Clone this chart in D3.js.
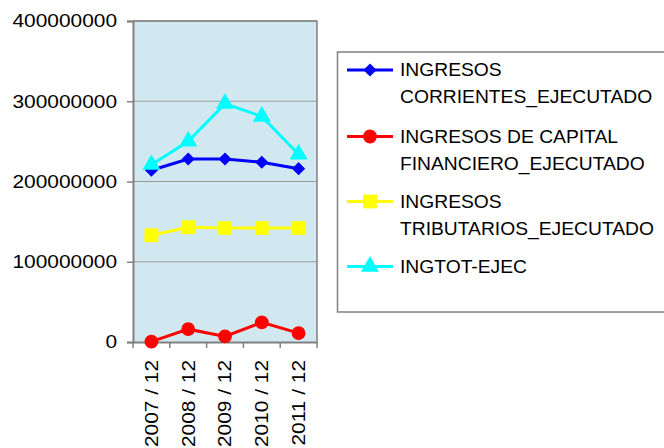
<!DOCTYPE html>
<html>
<head>
<meta charset="utf-8">
<script src="https://cdn.jsdelivr.net/npm/d3@7"></script>
<style>
  body { margin: 0; background: #fff; }
  text { font-family: "Liberation Sans", Arial, sans-serif; fill: #000; }
</style>
</head>
<body>
<div id="chart"></div>
<script>
// categories and series
var periods = ["2007 / 12", "2008 / 12", "2009 / 12", "2010 / 12", "2011 / 12"];
var corrientes = [214000000, 228000000, 228000000, 224000000, 216000000];
var capital = [500000, 16000000, 7000000, 24500000, 11000000];
var tributarios = [133000000, 143000000, 142000000, 142000000, 142000000];
var ingtot = [221000000, 250000000, 297000000, 281000000, 234000000];
var yTicks = [0, 100000000, 200000000, 300000000, 400000000];

var series = [
    { name: ["INGRESOS", "CORRIENTES_EJECUTADO"], values: corrientes, color: "#0000ff", marker: "diamond" },
    { name: ["INGRESOS DE CAPITAL", "FINANCIERO_EJECUTADO"], values: capital, color: "#ff0000", marker: "circle" },
    { name: ["INGRESOS", "TRIBUTARIOS_EJECUTADO"], values: tributarios, color: "#ffff00", marker: "square" },
    { name: ["INGTOT-EJEC"], values: ingtot, color: "#00ffff", marker: "triangle" }
];

var W = 664, H = 448;
var plot = { left: 133, right: 317, top: 21, bottom: 342 };

var svg = d3.select("#chart")
    .append("svg")
    .attr("width", W)
    .attr("height", H);

svg.append("rect").attr("width", W).attr("height", H).attr("fill", "#fff");

var x = d3.scaleBand()
    .domain(periods)
    .range([plot.left, plot.right]);

var y = d3.scaleLinear()
    .domain([0, 400000000])
    .range([plot.bottom, plot.top]);

// plot background
svg.append("rect")
    .attr("x", plot.left)
    .attr("y", plot.top)
    .attr("width", plot.right - plot.left)
    .attr("height", plot.bottom - plot.top)
    .attr("fill", "#d2e8f0");

// gridlines
svg.append("g")
    .selectAll("line")
    .data(yTicks.slice(1))
    .enter()
    .append("line")
    .attr("x1", plot.left)
    .attr("x2", plot.right)
    .attr("y1", function (d) { return y(d); })
    .attr("y2", function (d) { return y(d); })
    .attr("stroke", "#9a9a9a")
    .attr("stroke-width", 1);

// right and top frame
svg.append("path")
    .attr("d", "M" + plot.left + "," + plot.top + "H" + plot.right + "V" + plot.bottom)
    .attr("fill", "none")
    .attr("stroke", "#808080")
    .attr("stroke-width", 1.5);

// Y axis
var yAxis = svg.append("g")
    .attr("transform", "translate(" + plot.left + ",0)")
    .call(d3.axisLeft(y).tickValues(yTicks).tickSize(6).tickPadding(10).tickFormat(d3.format("d")));

// X axis (ticks on band edges)
var xAxis = svg.append("g")
    .attr("transform", "translate(0," + plot.bottom + ")")
    .call(d3.axisBottom(x).tickSize(0).tickPadding(18));

svg.append("g")
    .selectAll("line")
    .data(periods.concat(["end"]))
    .enter()
    .append("line")
    .attr("x1", function (d, i) { return plot.left + i * x.step(); })
    .attr("x2", function (d, i) { return plot.left + i * x.step(); })
    .attr("y1", plot.bottom)
    .attr("y2", plot.bottom + 6)
    .attr("stroke", "#808080")
    .attr("stroke-width", 1.5);

[yAxis, xAxis].forEach(function (ax) {
    ax.select(".domain").attr("stroke", "#808080").attr("stroke-width", 2);
    ax.selectAll(".tick line").attr("stroke", "#808080").attr("stroke-width", 1.5);
    ax.selectAll("text")
        .style("font-family", "'Liberation Sans', Arial, sans-serif")
        .style("font-size", "18px")
        .attr("fill", "#000");
});

xAxis.selectAll("text")
    .attr("text-anchor", "end")
    .attr("x", 0)
    .attr("y", 0)
    .attr("dy", "0.35em")
    .attr("transform", "translate(0,18) rotate(-90)");

// stretch tick labels a bit, they look wider than plain 18px
svg.selectAll(".tick text").each(function () {
    var w = this.getComputedTextLength();
    d3.select(this)
        .attr("textLength", w * 1.16)
        .attr("lengthAdjust", "spacingAndGlyphs");
});

var symbols = {
    diamond: d3.symbol().type(d3.symbolDiamond2).size(110),
    circle: d3.symbol().type(d3.symbolCircle).size(150),
    square: d3.symbol().type(d3.symbolSquare).size(190),
    triangle: d3.symbol().type(d3.symbolTriangle).size(140)
};

var line = d3.line()
    .x(function (d, i) { return x(periods[i]) + x.bandwidth() / 2; })
    .y(function (d) { return y(d); });

series.forEach(function (s) {
    svg.append("path")
        .datum(s.values)
        .attr("d", line)
        .attr("fill", "none")
        .attr("stroke", s.color)
        .attr("stroke-width", 3);

    svg.append("g")
        .selectAll("path")
        .data(s.values)
        .enter()
        .append("path")
        .attr("d", symbols[s.marker])
        .attr("transform", function (d, i) {
            return "translate(" + (x(periods[i]) + x.bandwidth() / 2) + "," + y(d) + ")";
        })
        .attr("fill", s.color);
});

// legend
var legend = svg.append("g");
legend.append("rect")
    .attr("x", 337.5)
    .attr("y", 52)
    .attr("width", 340)
    .attr("height", 260)
    .attr("fill", "#fff")
    .attr("stroke", "#808080")
    .attr("stroke-width", 1.5);

var rowY = [70, 136.5, 201.5, 266.5];
series.forEach(function (s, i) {
    var g = legend.append("g").attr("transform", "translate(0," + rowY[i] + ")");
    g.append("line")
        .attr("x1", 347).attr("x2", 393)
        .attr("stroke", s.color).attr("stroke-width", 3);
    g.append("path")
        .attr("d", symbols[s.marker])
        .attr("transform", "translate(370,0)")
        .attr("fill", s.color);
    s.name.forEach(function (t, j) {
        g.append("text")
            .attr("x", 400)
            .attr("y", j * 27)
            .attr("dy", "0.36em")
            .style("font-size", "18px")
            .text(t);
    });
});

legend.selectAll("text").each(function () {
    var w = this.getComputedTextLength();
    d3.select(this)
        .attr("textLength", w * 1.07)
        .attr("lengthAdjust", "spacingAndGlyphs");
});
</script>
</body>
</html>
